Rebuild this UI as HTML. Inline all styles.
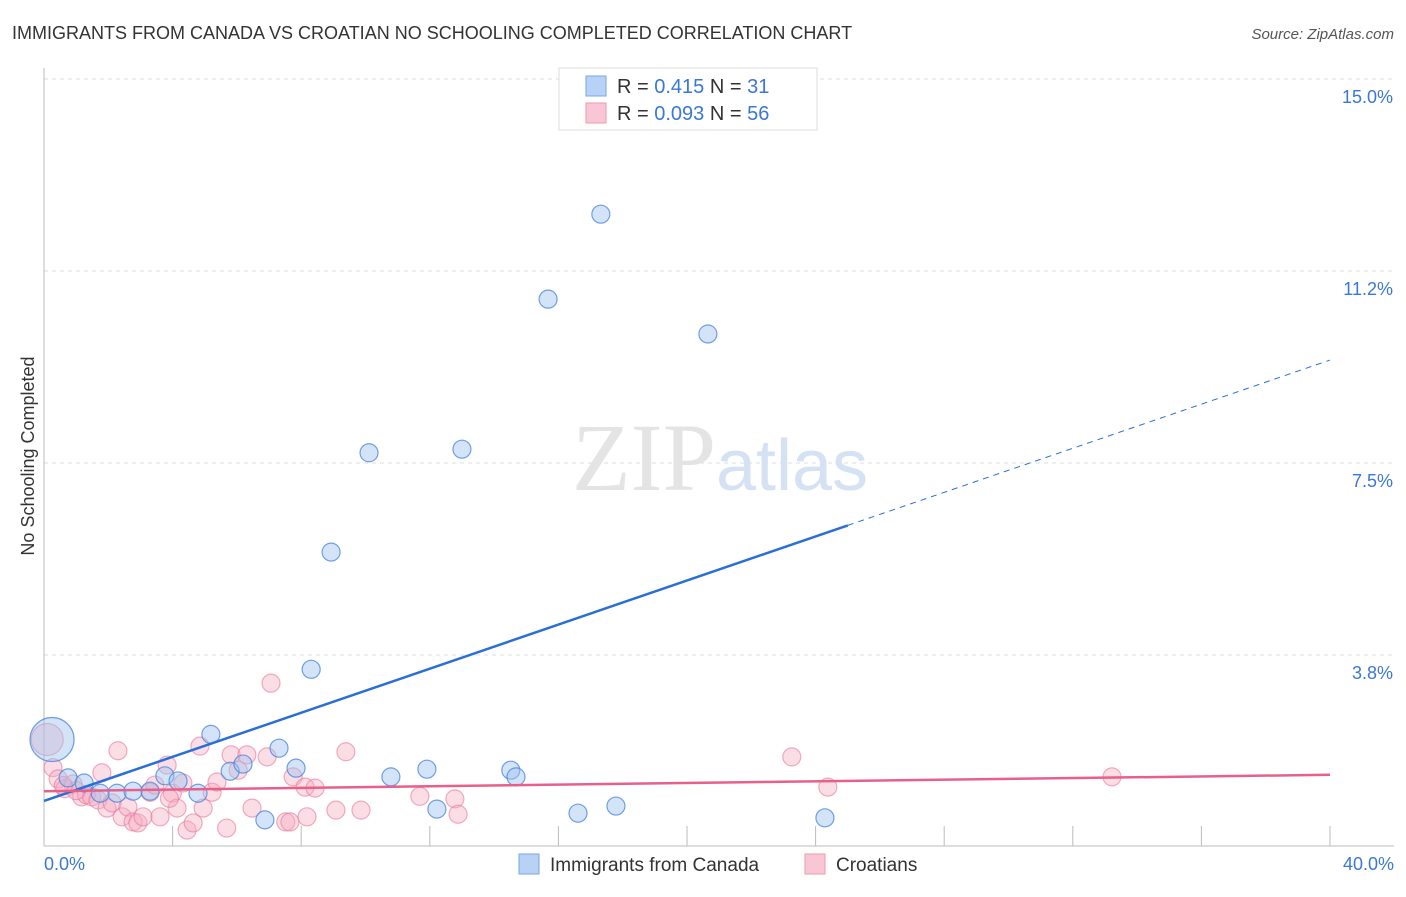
<!DOCTYPE html>
<html><head><meta charset="utf-8"><style>
body{margin:0;background:#fff;font-family:"Liberation Sans",sans-serif;}
svg text{font-family:"Liberation Sans",sans-serif;}
</style></head><body>
<svg id="chart" width="1406" height="892">
<text x="12" y="39" font-size="18" fill="#333">IMMIGRANTS FROM CANADA VS CROATIAN NO SCHOOLING COMPLETED CORRELATION CHART</text>
<text x="1394" y="39" font-size="15" fill="#555" font-style="italic" text-anchor="end">Source: ZipAtlas.com</text>
<text x="34" y="456" font-size="18" fill="#333" text-anchor="middle" transform="rotate(-90 34 456)">No Schooling Completed</text>
<g id="grid"></g>
<text x="720" y="490" font-size="96" fill="#e4e4e4" text-anchor="middle" font-family="Liberation Serif"><tspan font-family="Liberation Serif">ZIP</tspan><tspan fill="#d4e2f4" font-size="72" font-family="Liberation Sans">atlas</tspan></text>
<g id="marks"></g>
<g>
<rect x="559" y="68" width="258" height="62" fill="#fff" stroke="#ddd"/>
<rect x="586" y="76" width="20" height="20" fill="#b7d2f4" stroke="#7aa6e6"/>
<text x="617" y="93" font-size="20" fill="#333">R = <tspan fill="#3a78d6">0.415</tspan>   N = <tspan fill="#3a78d6">31</tspan></text>
<rect x="586" y="103" width="20" height="20" fill="#f8c6d4" stroke="#ee9ab2"/>
<text x="617" y="120" font-size="20" fill="#333">R = <tspan fill="#3a78d6">0.093</tspan>   N = <tspan fill="#3a78d6">56</tspan></text>
</g>
<g>
<rect x="519" y="854" width="20" height="20" fill="#b7d2f4" stroke="#7aa6e6"/>
<text x="550" y="871" font-size="19" fill="#333">Immigrants from Canada</text>
<rect x="805" y="854" width="20" height="20" fill="#f8c6d4" stroke="#ee9ab2"/>
<text x="836" y="871" font-size="19" fill="#333">Croatians</text>
</g>
</svg>
<script>
const yTicks=[3.75,7.5,11.25,15];
const yTickLabels=["3.8%","7.5%","11.2%","15.0%"];
const xTickLabels=["0.0%","40.0%"];
const canadaX=[0.25,0.75,1.25,1.75,2.27,2.77,3.3,3.76,4.17,4.79,5.19,5.79,6.19,6.87,7.31,7.84,8.31,8.93,10.11,10.79,11.91,12.22,13,14.52,14.68,15.68,16.61,17.32,17.79,20.65,24.29];
const canadaY=[2.1,1.35,1.25,1.05,1.05,1.09,1.09,1.39,1.29,1.05,2.2,1.48,1.62,0.53,1.93,1.54,3.47,5.76,7.7,1.37,1.52,0.74,7.77,1.5,1.37,10.7,0.66,12.36,0.8,10.02,0.57];
const canadaR=[22,9,9,9,9,9,9,9,9,9,9,9,9,9,9,9,9,9,9,9,9,9,9,9,9,9,9,9,9,9,9];
const croX=[0.1,0.28,0.44,0.65,0.9,1.17,1.32,1.48,1.68,1.8,1.96,2.12,2.3,2.43,2.61,2.77,2.92,3.08,3.3,3.45,3.61,3.83,3.99,4.14,4.32,4.45,4.64,4.85,4.95,5.23,5.38,5.68,5.82,6.04,6.31,6.47,6.94,7.06,7.52,7.65,7.75,8.12,8.18,8.43,9.08,9.39,9.86,11.69,12.78,12.88,23.26,24.38,33.22,1.0,0.6,3.9];
const croY=[2.1,1.55,1.33,1.14,1.23,0.98,1.02,0.98,0.92,1.45,0.76,0.86,1.88,0.59,0.78,0.49,0.47,0.59,1.07,1.21,0.59,1.6,1.05,0.76,1.25,0.33,0.47,1.97,0.76,1.07,1.27,0.37,1.8,1.5,1.8,0.76,1.76,3.2,0.49,0.49,1.37,1.17,0.59,1.15,0.72,1.86,0.72,0.99,0.94,0.64,1.76,1.17,1.37,1.1,1.2,0.95];
const canadaTrend=[0.9,9.51];
const croTrend=[1.09,1.41];
const NS="http://www.w3.org/2000/svg";
const X0=44,X1=1330,Y0=847,YP=51.2;
function sx(v){return X0+(X1-X0)*v/40;}
function sy(v){return Y0-v*YP;}
function mk(t,a,p){const e=document.createElementNS(NS,t);for(const k in a)e.setAttribute(k,a[k]);p.appendChild(e);return e;}
const grid=document.getElementById('grid'),marks=document.getElementById('marks');
yTicks.forEach((v,i)=>{
 const l=mk('line',{x1:X0,x2:1394,y1:sy(v),y2:sy(v),stroke:'#ddd','stroke-dasharray':'4,4'},grid);
 
 
 const t=mk('text',{x:1393,y:sy(v)+24,'font-size':18,fill:'#3a78d6','text-anchor':'end'},grid);t.textContent=yTickLabels[i];
 
 
});
const ax=mk('line',{x1:X0,x2:X0,y1:68,y2:846,stroke:'#bbb'},grid);


const bx=mk('line',{x1:X0,x2:1394,y1:846,y2:846,stroke:'#bbb'},grid);


for(let i=1;i<=10;i++){const tk=mk('line',{x1:sx(i*4),x2:sx(i*4),y1:826,y2:846,stroke:'#bbb'},grid);
 
 }
[[0,'start',X0],[40,'end',1394]].forEach((d,i)=>{const t=mk('text',{x:d[2],y:870,'font-size':18,fill:'#3a78d6','text-anchor':d[1]},grid);t.textContent=xTickLabels[i];
 
 });
croX.forEach((v,i)=>{const c=mk('circle',{cx:sx(v),cy:sy(croY[i]),r:i==0?16:9,fill:'rgba(246,170,192,0.4)',stroke:'rgba(232,120,155,0.6)','stroke-width':1.2},marks);
 
 });
canadaX.forEach((v,i)=>{const c=mk('circle',{cx:sx(v),cy:sy(canadaY[i]),r:canadaR[i],fill:'rgba(160,195,240,0.45)',stroke:'rgba(70,130,220,0.75)','stroke-width':1.2},marks);
 
 });
const xs=25;const ym=canadaTrend[0]+(canadaTrend[1]-canadaTrend[0])*xs/40;
const b1=mk('line',{x1:sx(0),y1:sy(canadaTrend[0]),x2:sx(xs),y2:sy(ym),stroke:'#2a6fd6','stroke-width':2.5},marks);


const b2=mk('line',{x1:sx(xs),y1:sy(ym),x2:sx(40),y2:sy(canadaTrend[1]),stroke:'#2a6fd6','stroke-width':1,'stroke-dasharray':'6,5'},marks);


const p1=mk('line',{x1:sx(0),y1:sy(croTrend[0]),x2:sx(40),y2:sy(croTrend[1]),stroke:'#e8608a','stroke-width':2.5},marks);


</script>
</body></html>
